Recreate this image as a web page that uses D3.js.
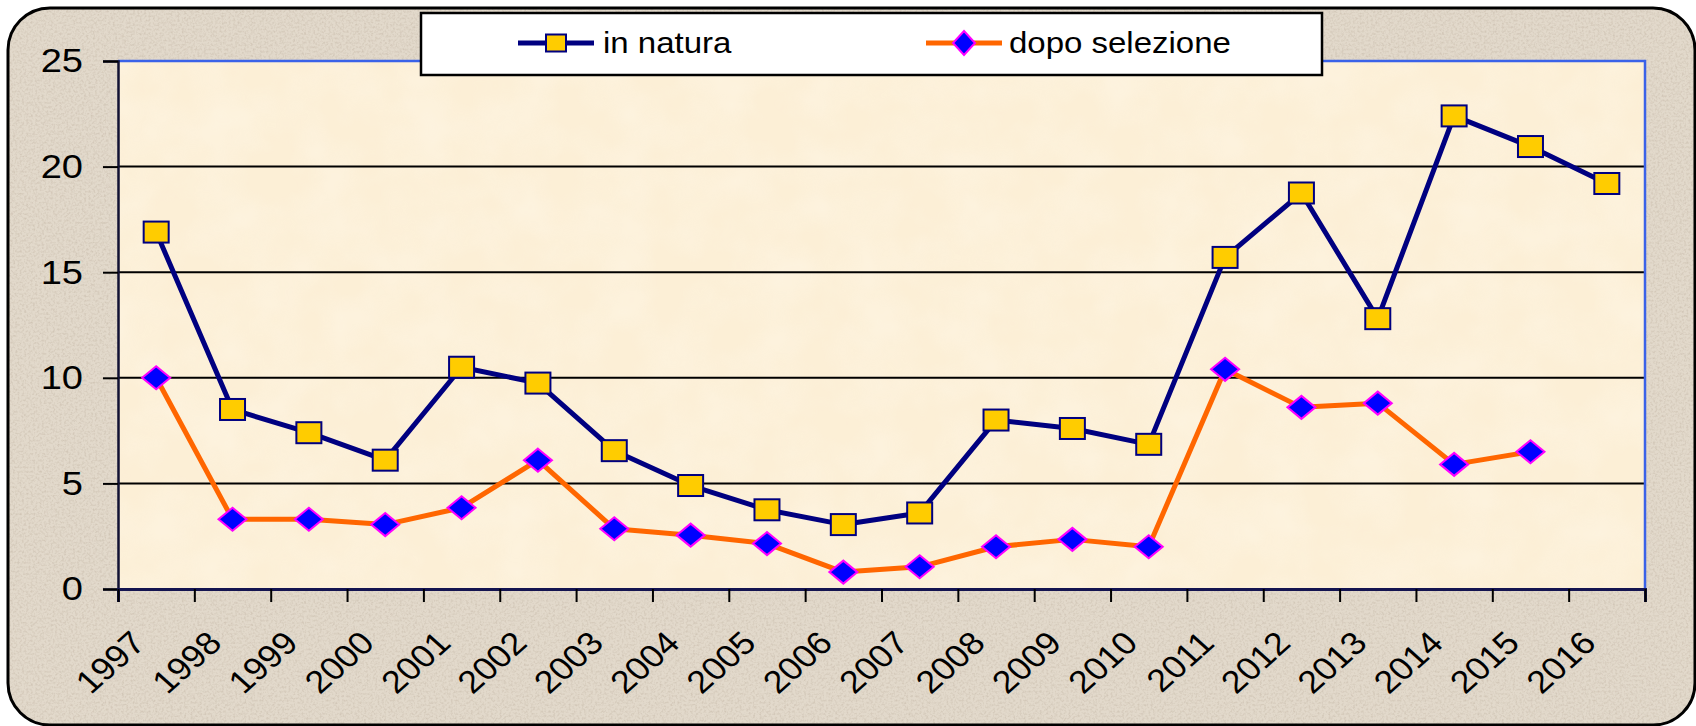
<!DOCTYPE html>
<html>
<head>
<meta charset="utf-8">
<script src="https://cdn.jsdelivr.net/npm/d3@7"></script>
<style>
  html, body { margin: 0; padding: 0; background: #fff; }
  svg { display: block; }
  text { font-family: "Liberation Sans", Arial, sans-serif; fill: #000; }
</style>
</head>
<body>
<div id="chart"></div>
<script>
const years = ["1997", "1998", "1999", "2000", "2001", "2002", "2003", "2004", "2005", "2006",
               "2007", "2008", "2009", "2010", "2011", "2012", "2013", "2014", "2015", "2016"];
const inNatura = [16.9, 8.5, 7.4, 6.1, 10.5, 9.75, 6.55, 4.9, 3.75, 3.05,
                  3.6, 8.0, 7.6, 6.85, 15.7, 18.75, 12.8, 22.4, 20.95, 19.2];
const dopoSelezione = [10.0, 3.3, 3.3, 3.05, 3.85, 6.1, 2.85, 2.55, 2.15, 0.8,
                       1.05, 2.0, 2.35, 2.0, 10.4, 8.6, 8.8, 5.9, 6.5, null];
const yTicks = [0, 5, 10, 15, 20, 25];
const seriesNames = ["in natura", "dopo selezione"];

const width = 1696, height = 726;
const plot = {left: 118, top: 61, right: 1645, bottom: 589};
// the original picture is stretched sideways, so text is too
const stretch = 1.12;

const svg = d3.select("#chart").append("svg")
    .attr("width", width)
    .attr("height", height);

// textures
const defs = svg.append("defs");
const noise = defs.append("filter").attr("id", "noise")
    .attr("x", 0).attr("y", 0).attr("width", "100%").attr("height", "100%");
noise.append("feTurbulence")
    .attr("type", "fractalNoise").attr("baseFrequency", 0.45)
    .attr("numOctaves", 2).attr("seed", 7);
noise.append("feColorMatrix").attr("type", "matrix")
    .attr("values", "0 0 0 0 0.55  0 0 0 0 0.47  0 0 0 0 0.38  0 0 0 2.2 -0.95");

const soft = defs.append("filter").attr("id", "soft")
    .attr("x", 0).attr("y", 0).attr("width", "100%").attr("height", "100%");
soft.append("feTurbulence")
    .attr("type", "fractalNoise").attr("baseFrequency", 0.02)
    .attr("numOctaves", 3).attr("seed", 2);
soft.append("feColorMatrix").attr("type", "matrix")
    .attr("values", "0 0 0 0 1  0 0 0 0 0.95  0 0 0 0 0.85  0 0 0 1.2 -0.35");

defs.append("clipPath").attr("id", "frame")
  .append("rect")
    .attr("x", 8).attr("y", 8)
    .attr("width", width - 9).attr("height", height - 9)
    .attr("rx", 42).attr("ry", 42);

// outer frame
const frame = svg.append("g").attr("clip-path", "url(#frame)");
frame.append("rect")
    .attr("x", 0).attr("y", 0).attr("width", width).attr("height", height)
    .attr("fill", "#e2d9cb");
frame.append("rect")
    .attr("x", 0).attr("y", 0).attr("width", width).attr("height", height)
    .attr("filter", "url(#noise)")
    .attr("opacity", 0.55);

// plot area
svg.append("rect")
    .attr("x", plot.left).attr("y", plot.top)
    .attr("width", plot.right - plot.left).attr("height", plot.bottom - plot.top)
    .attr("fill", "#fcefd6");
svg.append("rect")
    .attr("x", plot.left).attr("y", plot.top)
    .attr("width", plot.right - plot.left).attr("height", plot.bottom - plot.top)
    .attr("filter", "url(#soft)")
    .attr("opacity", 0.5);

const x = d3.scaleBand().domain(years).range([plot.left, plot.right]).padding(0);
const xTicks = d3.scaleLinear().domain([0, years.length]).range([plot.left, plot.right]);
const y = d3.scaleLinear().domain([0, 25]).range([plot.bottom, plot.top]);

// gridlines
svg.append("g")
  .selectAll("line")
  .data(yTicks.filter(d => d > 0 && d < 25))
  .join("line")
    .attr("x1", plot.left).attr("x2", plot.right)
    .attr("y1", d => y(d)).attr("y2", d => y(d))
    .attr("stroke", "#000").attr("stroke-width", 2);

// blue top and right border
svg.append("path")
    .attr("d", `M${plot.left},${y(25)} H${plot.right} V${plot.bottom}`)
    .attr("fill", "none")
    .attr("stroke", "#3a62e8")
    .attr("stroke-width", 2.5);

// y axis
const yAxis = svg.append("g")
    .attr("transform", `translate(${plot.left},0)`)
    .call(d3.axisLeft(y).tickValues(yTicks).tickSize(15).tickPadding(20));
yAxis.select(".domain").attr("stroke", "#111133").attr("stroke-width", 2.5);
yAxis.selectAll(".tick line").attr("stroke", "#000").attr("stroke-width", 2);
yAxis.selectAll(".tick text")
    .attr("x", 0)
    .attr("transform", `translate(-35,0) scale(${stretch},1)`)
    .attr("font-size", 34)
    .attr("font-family", "'Liberation Sans', Arial, sans-serif")
    .attr("fill", "#000");

// x axis ticks at category boundaries
const xAxis = svg.append("g")
    .attr("transform", `translate(0,${plot.bottom})`)
    .call(d3.axisBottom(xTicks).tickValues(d3.range(years.length + 1)).tickSize(13).tickFormat(""));
xAxis.select(".domain").attr("stroke", "#141450").attr("stroke-width", 3);
xAxis.selectAll(".tick line").attr("stroke", "#000").attr("stroke-width", 2);

// rotated year labels
svg.append("g")
  .selectAll("text")
  .data(years)
  .join("text")
    .attr("transform", d => `translate(${x(d) + x.bandwidth() / 2 - 9},${plot.bottom + 56}) scale(${stretch},1) rotate(-45)`)
    .attr("text-anchor", "end")
    .attr("font-size", 32)
    .text(d => d);

// lines
const cx = (d, i) => x(years[i]) + x.bandwidth() / 2;
const line = d3.line()
    .defined(d => d != null)
    .x(cx)
    .y(d => y(d));

svg.append("path")
    .datum(dopoSelezione)
    .attr("d", line)
    .attr("fill", "none")
    .attr("stroke", "#ff6600")
    .attr("stroke-width", 5)
    .attr("stroke-linejoin", "round");

svg.append("path")
    .datum(inNatura)
    .attr("d", line)
    .attr("fill", "none")
    .attr("stroke", "#000080")
    .attr("stroke-width", 5)
    .attr("stroke-linejoin", "round");

// markers
const sqW = 25, sqH = 21, dmW = 28, dmH = 23;
function diamond(w, h) {
  return `M0,${-h / 2} L${w / 2},0 L0,${h / 2} L${-w / 2},0 Z`;
}

svg.append("g")
  .selectAll("path")
  .data(dopoSelezione.map((v, i) => ({v, i})).filter(d => d.v != null))
  .join("path")
    .attr("transform", d => `translate(${cx(d.v, d.i)},${y(d.v)})`)
    .attr("d", diamond(dmW, dmH))
    .attr("fill", "#0000ff")
    .attr("stroke", "#ff00ff")
    .attr("stroke-width", 2);

svg.append("g")
  .selectAll("rect")
  .data(inNatura.map((v, i) => ({v, i})))
  .join("rect")
    .attr("x", d => cx(d.v, d.i) - sqW / 2)
    .attr("y", d => y(d.v) - sqH / 2)
    .attr("width", sqW).attr("height", sqH)
    .attr("fill", "#ffcc00")
    .attr("stroke", "#000080")
    .attr("stroke-width", 2);

// legend
const legend = svg.append("g");
legend.append("rect")
    .attr("x", 421).attr("y", 13)
    .attr("width", 901).attr("height", 62)
    .attr("fill", "#fff")
    .attr("stroke", "#000").attr("stroke-width", 2.5);

const items = [
  {name: seriesNames[0], x0: 518, color: "#000080", tx: 603},
  {name: seriesNames[1], x0: 926, color: "#ff6600", tx: 1009}
];
const ly = 43;
items.forEach((it, k) => {
  legend.append("line")
      .attr("x1", it.x0).attr("x2", it.x0 + 76)
      .attr("y1", ly).attr("y2", ly)
      .attr("stroke", it.color).attr("stroke-width", 5);
  const mx = it.x0 + 38;
  if (k === 0) {
    legend.append("rect")
        .attr("x", mx - 10).attr("y", ly - 8.5)
        .attr("width", 20).attr("height", 17)
        .attr("fill", "#ffcc00").attr("stroke", "#000080").attr("stroke-width", 2);
  } else {
    legend.append("path")
        .attr("transform", `translate(${mx},${ly})`)
        .attr("d", diamond(22, 24))
        .attr("fill", "#0000ff").attr("stroke", "#ff00ff").attr("stroke-width", 2);
  }
  legend.append("text")
      .attr("transform", `translate(${it.tx},53) scale(1.1,1)`)
      .attr("font-size", 30)
      .text(it.name);
});

// frame border
svg.append("rect")
    .attr("x", 8).attr("y", 8)
    .attr("width", width - 9).attr("height", height - 9)
    .attr("rx", 42).attr("ry", 42)
    .attr("fill", "none")
    .attr("stroke", "#000").attr("stroke-width", 3);
</script>
</body>
</html>
